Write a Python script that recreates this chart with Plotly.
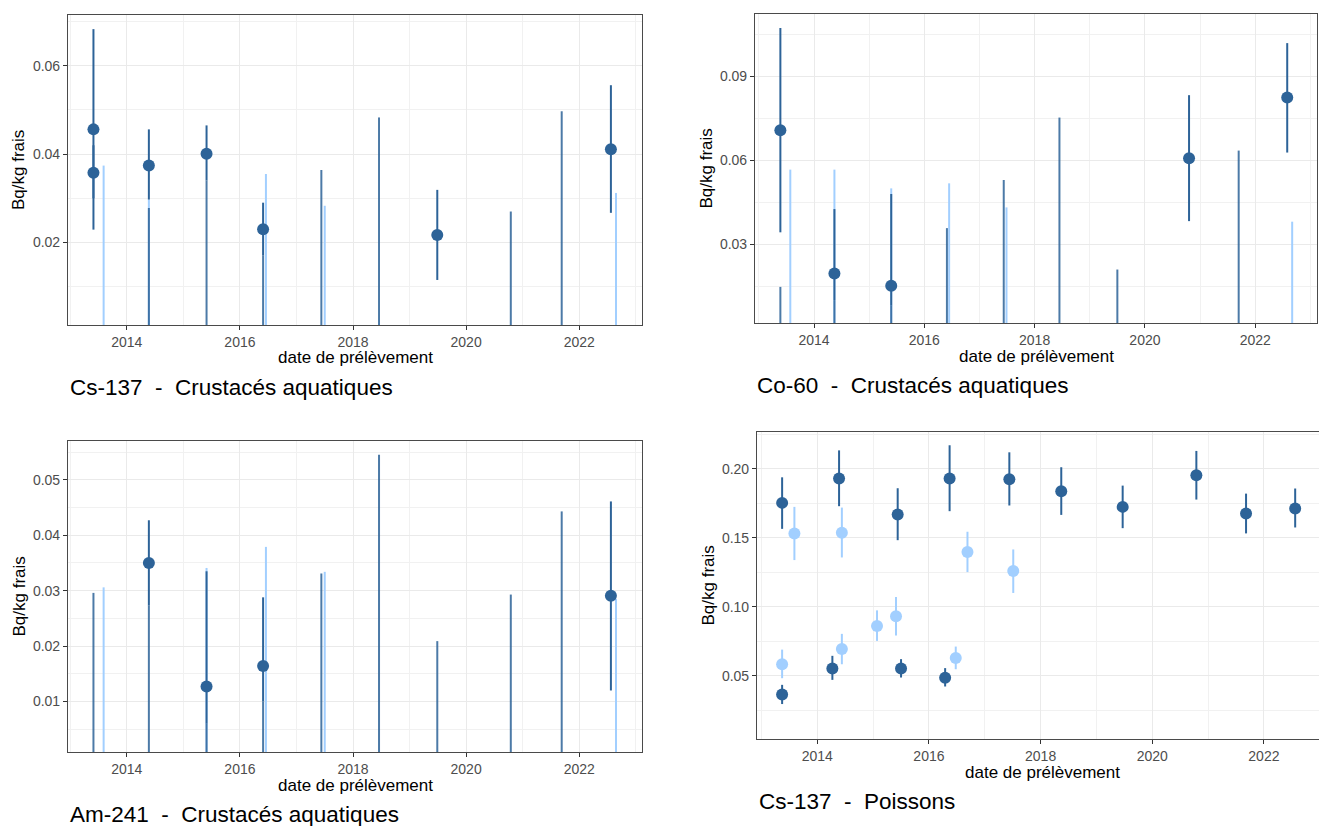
import plotly.graph_objects as go

# The page body adds an 8px offset; the figure is sized so that it fills the window exactly.
OFF = 8
W, H = 1327 - OFF, 826 - OFF
DARK = "#2D6398"
DARK_ND = "rgba(45,99,152,0.85)"
LIGHT = "#A2CFFF"

# ---------------- Panel 1 : Cs-137 - Crustacés aquatiques ----------------
p1_dark_dates = [2013.41, 2013.41, 2014.39, 2015.41, 2016.41, 2019.49, 2022.56]
p1_dark_vals = [0.0456, 0.0358, 0.0374, 0.0401, 0.0230, 0.0217, 0.0411]
p1_dark_low = [0.0229, 0.0300, 0.0297, 0.0340, 0.0170, 0.0115, 0.0267]
p1_dark_high = [0.0683, 0.0420, 0.0456, 0.0465, 0.0290, 0.0319, 0.0556]
p1_dnd_dates = [2014.39, 2015.41, 2016.41, 2017.44, 2018.46, 2020.79, 2021.69]
p1_dnd_lim = [0.0278, 0.0340, 0.0170, 0.0364, 0.0483, 0.0270, 0.0497]
p1_lnd_dates = [2013.59, 2014.39, 2016.46, 2017.50, 2022.65]
p1_lnd_lim = [0.0374, 0.0297, 0.0355, 0.0283, 0.0312]

# ---------------- Panel 2 : Co-60 - Crustacés aquatiques ----------------
p2_dark_dates = [2013.39, 2014.37, 2015.40, 2020.80, 2022.58]
p2_dark_vals = [0.0707, 0.0195, 0.0151, 0.0607, 0.0824]
p2_dark_low = [0.0342, 0.0100, 0.0080, 0.0382, 0.0627]
p2_dark_high = [0.1072, 0.0425, 0.0479, 0.0832, 0.1018]
p2_dnd_dates = [2013.39, 2014.37, 2015.40, 2016.41, 2017.44, 2018.45, 2019.50, 2021.70]
p2_dnd_lim = [0.0147, 0.0100, 0.0080, 0.0357, 0.0529, 0.0752, 0.0209, 0.0634]
p2_lnd_dates = [2013.57, 2014.37, 2015.40, 2016.45, 2017.49, 2022.67]
p2_lnd_lim = [0.0566, 0.0566, 0.0499, 0.0517, 0.0431, 0.0380]

# ---------------- Panel 3 : Am-241 - Crustacés aquatiques ----------------
p3_dark_dates = [2014.39, 2015.41, 2016.41, 2022.56]
p3_dark_vals = [0.0350, 0.0127, 0.0164, 0.0291]
p3_dark_low = [0.0273, 0.0060, 0.0100, 0.0120]
p3_dark_high = [0.0427, 0.0335, 0.0288, 0.0461]
p3_dnd_dates = [2013.41, 2014.39, 2015.41, 2016.41, 2017.44, 2018.46, 2019.49, 2020.79, 2021.69]
p3_dnd_lim = [0.0296, 0.0273, 0.0060, 0.0100, 0.0331, 0.0545, 0.0209, 0.0293, 0.0443]
p3_lnd_dates = [2013.59, 2015.41, 2016.46, 2017.50, 2022.65]
p3_lnd_lim = [0.0306, 0.0341, 0.0379, 0.0334, 0.0285]

# ---------------- Panel 4 : Cs-137 - Poissons ----------------
p4_dark_dates = [2013.37, 2013.37, 2014.39, 2014.27, 2015.44, 2015.50, 2016.37,
                 2016.29, 2017.44, 2018.37, 2019.47, 2020.79, 2021.68, 2022.56]
p4_dark_vals = [0.1752, 0.0365, 0.1928, 0.0553, 0.1668, 0.0553, 0.1928,
                0.0486, 0.1923, 0.1836, 0.1723, 0.1952, 0.1675, 0.1711]
p4_dark_low = [0.1564, 0.0296, 0.1728, 0.0471, 0.1482, 0.0488, 0.1692,
               0.0423, 0.1733, 0.1665, 0.1569, 0.1776, 0.1531, 0.1574]
p4_dark_high = [0.1937, 0.0435, 0.2132, 0.0645, 0.1858, 0.0621, 0.2169,
                0.0556, 0.2118, 0.2010, 0.1877, 0.2128, 0.1819, 0.1856]
p4_light_dates = [2013.37, 2013.59, 2014.44, 2014.44, 2015.07, 2015.41, 2016.48, 2016.69, 2017.51]
p4_light_vals = [0.0584, 0.1531, 0.1535, 0.0695, 0.0861, 0.0931, 0.0630, 0.1396, 0.1259]
p4_light_low = [0.0483, 0.1338, 0.1357, 0.0584, 0.0753, 0.0792, 0.0548, 0.1251, 0.1100]
p4_light_high = [0.0690, 0.1723, 0.1718, 0.0804, 0.0974, 0.1071, 0.0712, 0.1543, 0.1415]

captions = ["Cs-137  -  Crustacés aquatiques", "Co-60  -  Crustacés aquatiques",
            "Am-241  -  Crustacés aquatiques", "Cs-137  -  Poissons"]
x_title = "date de prélèvement"
y_title = "Bq/kg frais"

# panel boxes in window pixels: (left, right, top, bottom)
boxes = [(68, 642, 15, 325), (755, 1317, 14, 323), (68, 642, 441, 752), (757, 1327, 432, 739)]
xranges = [[2012.96, 2023.11], [2012.93, 2023.12], [2012.96, 2023.11], [2012.92, 2023.13]]
yranges = [[0.0013, 0.0715], [0.0018, 0.1122], [0.0009, 0.0570], [0.0043, 0.2265]]
ymajor = [0.02, 0.03, 0.01, 0.05]

fig = go.Figure()


def nd_segments(dates, lims):
    xs, ys = [], []
    for d, l in zip(dates, lims):
        xs += [d, d, None]
        ys += [0, l, None]
    return xs, ys


def add_nd(i, dates, lims, color, width):
    xs, ys = nd_segments(dates, lims)
    fig.add_trace(go.Scatter(x=xs, y=ys, mode="lines", line=dict(color=color, width=width),
                             xaxis=f"x{i}", yaxis=f"y{i}", showlegend=False, hoverinfo="skip"))


def add_pts(i, dates, vals, low, high, color):
    fig.add_trace(go.Scatter(
        x=dates, y=vals, mode="markers",
        marker=dict(color=color, size=12, line=dict(width=0)),
        error_y=dict(type="data", symmetric=False,
                     array=[h - v for h, v in zip(high, vals)],
                     arrayminus=[v - lo for v, lo in zip(vals, low)],
                     color=color, thickness=2, width=0),
        xaxis=f"x{i}", yaxis=f"y{i}", showlegend=False))


# Panel 1
add_nd(1, p1_lnd_dates, p1_lnd_lim, LIGHT, 2)
add_nd(1, p1_dnd_dates, p1_dnd_lim, DARK_ND, 2)
add_pts(1, p1_dark_dates, p1_dark_vals, p1_dark_low, p1_dark_high, DARK)
# Panel 2
add_nd(2, p2_lnd_dates, p2_lnd_lim, LIGHT, 2)
add_nd(2, p2_dnd_dates, p2_dnd_lim, DARK_ND, 2)
add_pts(2, p2_dark_dates, p2_dark_vals, p2_dark_low, p2_dark_high, DARK)
# Panel 3
add_nd(3, p3_lnd_dates, p3_lnd_lim, LIGHT, 2)
add_nd(3, p3_dnd_dates, p3_dnd_lim, DARK_ND, 2)
add_pts(3, p3_dark_dates, p3_dark_vals, p3_dark_low, p3_dark_high, DARK)
# Panel 4
add_pts(4, p4_light_dates, p4_light_vals, p4_light_low, p4_light_high, LIGHT)
add_pts(4, p4_dark_dates, p4_dark_vals, p4_dark_low, p4_dark_high, DARK)

FONT = "Liberation Sans, Arial, sans-serif"
layout = dict(width=W, height=H, margin=dict(l=0, r=0, t=0, b=0, pad=0), autosize=False,
              paper_bgcolor="white", plot_bgcolor="white",
              font=dict(family=FONT, color="#000000"), showlegend=False)


def px(xp):
    return (xp - OFF) / W


def py(yp):
    return 1 - (yp - OFF) / H


annotations = []
for k, (l, r, t, b) in enumerate(boxes):
    i = k + 1
    xd = [max(0, px(l)), min(1, px(r))]
    yd = [max(0, py(b)), min(1, py(t))]
    common = dict(
        showgrid=True, gridcolor="#EAEAEA", gridwidth=1.2,
        zeroline=False, showline=True, mirror=True, linecolor="#4A4A4A", linewidth=1.1,
        ticks="outside", ticklen=4, tickcolor="#333333", tickwidth=1.1,
        tickfont=dict(size=14, color="#4D4D4D", family=FONT))
    layout[f"xaxis{i}" if i > 1 else "xaxis"] = dict(
        domain=xd, range=xranges[k], anchor=f"y{i}",
        tick0=2014, dtick=2, tickformat="d",
        minor=dict(tick0=2013, dtick=1, showgrid=True, gridcolor="#F1F1F1", gridwidth=0.9),
        **common)
    layout[f"yaxis{i}" if i > 1 else "yaxis"] = dict(
        domain=yd, range=yranges[k], anchor=f"x{i}",
        tick0=0, dtick=ymajor[k], tickformat=".2f",
        minor=dict(tick0=ymajor[k] / 2, dtick=ymajor[k], showgrid=True, gridcolor="#F1F1F1", gridwidth=0.9),
        **common)
    # x-axis title
    annotations.append(dict(text=x_title, x=px((l + r) / 2), y=py(b + 33),
                            xref="paper", yref="paper", showarrow=False,
                            xanchor="center", yanchor="middle",
                            font=dict(size=17, color="#000000", family=FONT)))
    # y-axis title
    annotations.append(dict(text=y_title, x=px(l - 49), y=py((t + b) / 2),
                            xref="paper", yref="paper", showarrow=False, textangle=-90,
                            xanchor="center", yanchor="middle",
                            font=dict(size=17, color="#000000", family=FONT)))
    # caption
    annotations.append(dict(text=captions[k], x=px(l), y=py(b + 62),
                            xref="paper", yref="paper", showarrow=False,
                            xanchor="left", yanchor="middle",
                            font=dict(size=22.5, color="#000000", family=FONT)))

layout["annotations"] = annotations
fig.update_layout(**layout)
fig.write_html("out.html")
